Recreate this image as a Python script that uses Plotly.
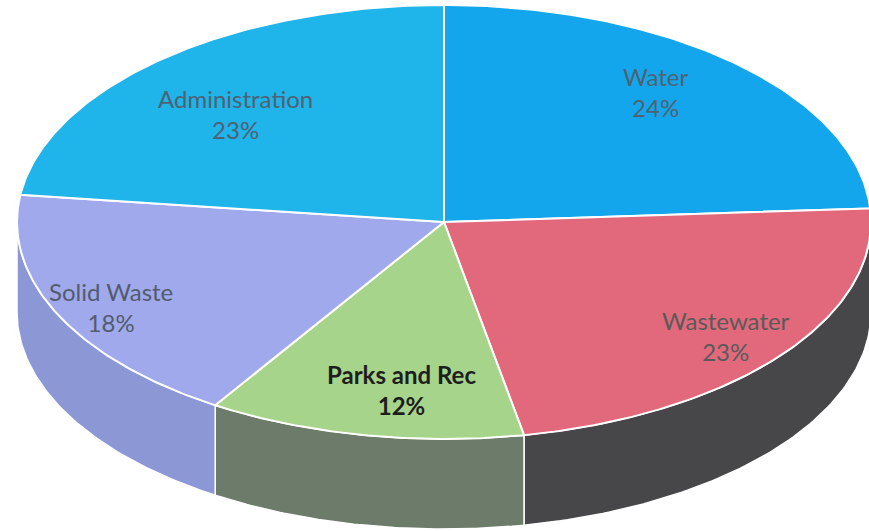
import numpy as np
import plotly.graph_objects as go

# ---- data ----
categories = ["Water", "Wastewater", "Parks and Rec", "Solid Waste", "Administration"]
values = [24, 23, 12, 18, 23]

# ---- styles ----
top_colors = ["#14a6ec", "#e2697b", "#a7d48b", "#a0a9ec", "#1fb4ea"]
side_colors = ["#0f7fb8", "#47474a", "#6d7b6a", "#8c98d6", "#1a8fc0"]
label_colors = ["#4f6272", "#5a5a5a", "#1e1e1e", "#525c6c", "#4f6272"]
label_weights = ["normal", "normal", "bold", "normal", "normal"]
# label centres in pixel space (layout only)
label_pos = [(655, 92), (726, 336), (401, 390), (111, 307), (235, 114)]

# ---- geometry (pixel space) ----
W, H = 869, 531
cx, cy = 444, 222
a, b = 427, 217
depth = 90

def ell(theta_deg, dy=0.0):
    t = np.radians(theta_deg)
    return cx + a * np.sin(t), cy - b * np.cos(t) + dy

total = sum(values)
bounds = np.concatenate([[0], np.cumsum(values)]) / total * 360.0

fig = go.Figure()

# sides (front half only: 90..270 deg)
for i in range(len(values)):
    s, e = max(bounds[i], 90), min(bounds[i + 1], 270)
    if e <= s:
        continue
    th = np.linspace(s, e, 80)
    xt, yt = ell(th)
    xb, yb = ell(th[::-1], depth)
    fig.add_trace(go.Scatter(
        x=np.concatenate([xt, xb, xt[:1]]), y=np.concatenate([yt, yb, yt[:1]]),
        mode="lines", fill="toself", fillcolor=side_colors[i],
        line=dict(color="white", width=1.5), hoverinfo="skip", showlegend=False))

# top faces
for i in range(len(values)):
    th = np.linspace(bounds[i], bounds[i + 1], 120)
    xs, ys = ell(th)
    fig.add_trace(go.Scatter(
        x=np.concatenate([[cx], xs, [cx]]), y=np.concatenate([[cy], ys, [cy]]),
        mode="lines", fill="toself", fillcolor=top_colors[i],
        line=dict(color="white", width=2), hoverinfo="skip", showlegend=False))

# labels
for i, cat in enumerate(categories):
    lx, ly = label_pos[i]
    fig.add_annotation(x=lx, y=ly, text=f"{cat}<br>{values[i]}%", showarrow=False,
                       font=dict(family="Lato, sans-serif", size=24,
                                 color=label_colors[i], weight=label_weights[i]),
                       align="center")

fig.update_layout(
    width=W, height=H, margin=dict(l=0, r=0, t=0, b=0),
    paper_bgcolor="white", plot_bgcolor="white",
    xaxis=dict(range=[0, W], visible=False, fixedrange=True),
    yaxis=dict(range=[H, 0], visible=False, fixedrange=True),
)
fig.write_html("out.html")
